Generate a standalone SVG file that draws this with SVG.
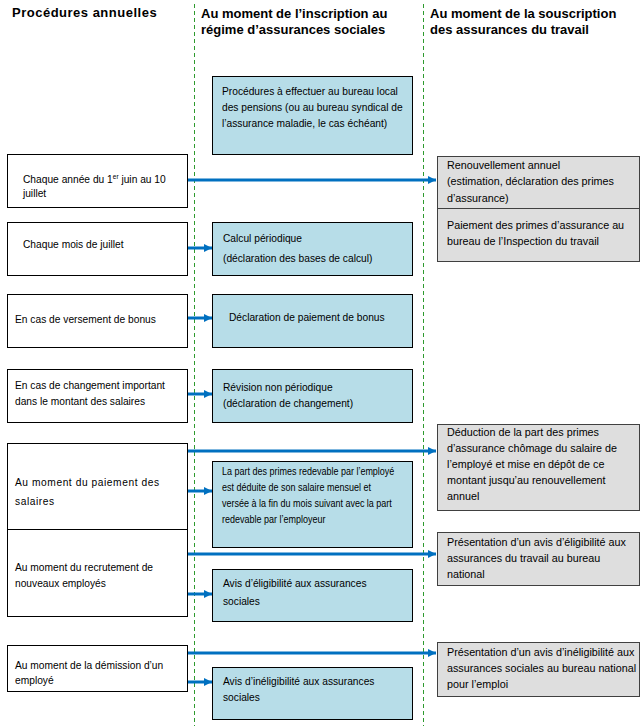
<svg xmlns="http://www.w3.org/2000/svg" width="642" height="726" viewBox="0 0 642 726">
<style>
.hdr{font-family:"Liberation Sans",Arial,sans-serif;font-weight:bold;font-size:13px;fill:#000}
.t{font-family:"Liberation Sans",Arial,sans-serif;font-size:11px;fill:#000;transform-box:fill-box;transform-origin:0 0;transform:scaleX(0.93)}
.ts{font-family:"Liberation Sans",Arial,sans-serif;font-size:10px;fill:#000;transform-box:fill-box;transform-origin:0 0;transform:scaleX(0.9)}
.tg{font-family:"Liberation Sans",Arial,sans-serif;font-size:11px;fill:#000;transform-box:fill-box;transform-origin:0 0;transform:scaleX(0.98)}
.w{fill:#fff;stroke:#000;stroke-width:1}
.b{fill:#b7dde8;stroke:#000;stroke-width:1}
.g{fill:#dedede;stroke:#404040;stroke-width:1}
.dash{stroke:#2e9a2e;stroke-width:1;stroke-dasharray:4 3;fill:none}
.arr{stroke:#0070c0;stroke-width:3;fill:none;marker-end:url(#ah)}
</style>
<defs>
<marker id="ah" markerUnits="userSpaceOnUse" markerWidth="9" markerHeight="9" refX="8" refY="4.5" orient="auto">
<path d="M0,0.5 L8,4.5 L0,8.5 z" fill="#0070c0"/>
</marker>
</defs>
<rect width="642" height="726" fill="#fff"/>
<g id="headers">
<text class="hdr" x="12" y="17" letter-spacing="0.5">Procédures annuelles</text>
<text class="hdr" x="201" y="18">Au moment de l’inscription au</text>
<text class="hdr" x="201" y="34">régime d’assurances sociales</text>
<text class="hdr" x="430" y="18">Au moment de la souscription</text>
<text class="hdr" x="430" y="34">des assurances du travail</text>
</g>
<g id="lanes">
<line class="dash" x1="194.5" y1="4" x2="194.5" y2="726"/>
<line class="dash" x1="423.5" y1="4" x2="423.5" y2="726"/>
</g>
<g id="left1"><rect class="w" x="7.5" y="154.5" width="180" height="53"/>
<text class="t" x="23" y="183">Chaque année du 1<tspan font-size="7" dy="-4">er</tspan><tspan dy="4"> juin au 10</tspan></text>
<text class="t" x="23" y="197">juillet</text></g>
<g id="left2"><rect class="w" x="7.5" y="222.5" width="180" height="53"/>
<text class="t" x="23" y="248">Chaque mois de juillet</text></g>
<g id="left3"><rect class="w" x="7.5" y="294.5" width="180" height="53"/>
<text class="t" x="15" y="323">En cas de versement de bonus</text></g>
<g id="left4"><rect class="w" x="7.5" y="369.5" width="180" height="53"/>
<text class="t" x="15" y="389">En cas de changement important</text>
<text class="t" x="15" y="405">dans le montant des salaires</text></g>
<g id="left5"><rect class="w" x="7.5" y="443.5" width="180" height="86"/>
<text class="t" x="15" y="486" letter-spacing="0.6">Au moment du paiement des</text>
<text class="t" x="15" y="505" letter-spacing="0.6">salaires</text></g>
<g id="left6"><rect class="w" x="7.5" y="529.5" width="180" height="87"/>
<text class="t" x="15" y="571">Au moment du recrutement de</text>
<text class="t" x="15" y="587">nouveaux employés</text></g>
<g id="left7"><rect class="w" x="7.5" y="645.5" width="180" height="46"/>
<text class="t" x="15" y="669">Au moment de la démission d’un</text>
<text class="t" x="15" y="684">employé</text></g>
<g id="blue1"><rect class="b" x="212.5" y="76.5" width="200" height="78"/>
<text class="t" x="222" y="95">Procédures à effectuer au bureau local</text>
<text class="t" x="222" y="111">des pensions (ou au bureau syndical de</text>
<text class="t" x="222" y="127">l’assurance maladie, le cas échéant)</text></g>
<g id="blue2"><rect class="b" x="212.5" y="222.5" width="200" height="53"/>
<text class="t" x="223" y="242">Calcul périodique</text>
<text class="t" x="223" y="262">(déclaration des bases de calcul)</text></g>
<g id="blue3"><rect class="b" x="212.5" y="294.5" width="200" height="53"/>
<text class="t" x="229" y="321">Déclaration de paiement de bonus</text></g>
<g id="blue4"><rect class="b" x="212.5" y="369.5" width="200" height="53"/>
<text class="t" x="223" y="391">Révision non périodique</text>
<text class="t" x="223" y="407">(déclaration de changement)</text></g>
<g id="blue5"><rect class="b" x="212.5" y="461.5" width="200" height="86"/>
<text class="ts" x="222" y="475">La part des primes redevable par l’employé</text>
<text class="ts" x="222" y="491">est déduite de son salaire mensuel et</text>
<text class="ts" x="222" y="507">versée à la fin du mois suivant avec la part</text>
<text class="ts" x="222" y="523">redevable par l’employeur</text></g>
<g id="blue6"><rect class="b" x="212.5" y="569.5" width="200" height="52"/>
<text class="t" x="223" y="587">Avis d’éligibilité aux assurances</text>
<text class="t" x="223" y="605">sociales</text></g>
<g id="blue7"><rect class="b" x="212.5" y="667.5" width="200" height="52"/>
<text class="t" x="223" y="685">Avis d’inéligibilité aux assurances</text>
<text class="t" x="223" y="701">sociales</text></g>
<g id="gray1"><rect class="g" x="437.5" y="156.5" width="202" height="52"/>
<text class="tg" x="447" y="169">Renouvellement annuel</text>
<text class="tg" x="447" y="185">(estimation, déclaration des primes</text>
<text class="tg" x="447" y="202">d’assurance)</text></g>
<g id="gray2"><rect class="g" x="437.5" y="208.5" width="202" height="53"/>
<text class="tg" x="447" y="229">Paiement des primes d’assurance au</text>
<text class="tg" x="447" y="245">bureau de l’Inspection du travail</text></g>
<g id="gray3"><rect class="g" x="437.5" y="424.5" width="202" height="86"/>
<text class="tg" x="447" y="436">Déduction de la part des primes</text>
<text class="tg" x="447" y="452">d’assurance chômage du salaire de</text>
<text class="tg" x="447" y="468">l’employé et mise en dépôt de ce</text>
<text class="tg" x="447" y="484">montant jusqu’au renouvellement</text>
<text class="tg" x="447" y="500">annuel</text></g>
<g id="gray4"><rect class="g" x="437.5" y="532.5" width="202" height="53"/>
<text class="tg" x="447" y="546">Présentation d’un avis d’éligibilité aux</text>
<text class="tg" x="447" y="562">assurances du travail au bureau</text>
<text class="tg" x="447" y="578">national</text></g>
<g id="gray5"><rect class="g" x="437.5" y="642.5" width="202" height="54"/>
<text class="tg" x="447" y="656">Présentation d’un avis d’inéligibilité aux</text>
<text class="tg" x="447" y="672">assurances sociales au bureau national</text>
<text class="tg" x="447" y="688">pour l’emploi</text></g>
<g id="connectors">
<line class="arr" x1="188" y1="180" x2="436" y2="180"/>
<line class="arr" x1="188" y1="248" x2="212" y2="248"/>
<line class="arr" x1="188" y1="318" x2="212" y2="318"/>
<line class="arr" x1="188" y1="394" x2="212" y2="394"/>
<line class="arr" x1="188" y1="451" x2="436" y2="451"/>
<line class="arr" x1="188" y1="491" x2="212" y2="491"/>
<line class="arr" x1="188" y1="554" x2="436" y2="554"/>
<line class="arr" x1="188" y1="594" x2="212" y2="594"/>
<line class="arr" x1="188" y1="653" x2="436" y2="653"/>
<line class="arr" x1="188" y1="682" x2="212" y2="682"/>
</g>
</svg>
